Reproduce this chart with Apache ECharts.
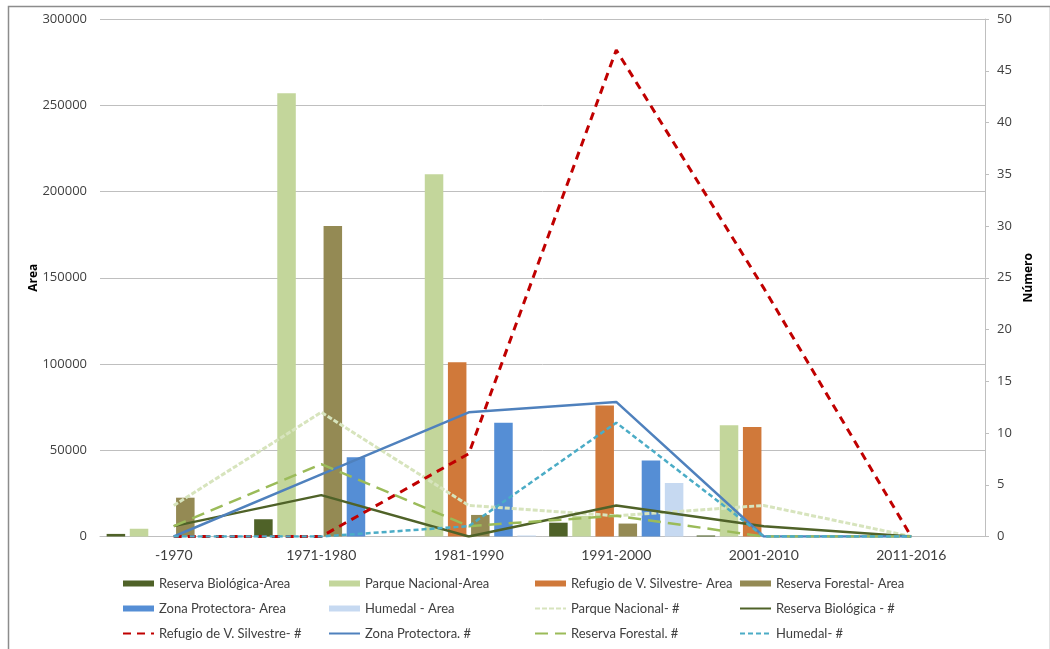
<!DOCTYPE html>
<html>
<head>
<meta charset="utf-8">
<title>Áreas protegidas por década</title>
<script src="https://cdn.jsdelivr.net/npm/echarts@6/dist/echarts.min.js"></script>
<style>
  html, body { margin: 0; padding: 0; background: #fff; }
  #chart { width: 1050px; height: 649px; }
</style>
</head>
<body>
<div id="chart"></div>
<script>
// Decades
const categories = ['-1970', '1971-1980', '1981-1990', '1991-2000', '2001-2010', '2011-2016'];

// Area declared per decade (left axis)
const areaBiologica = [1500, 10000, 0, 8000, 600, 0];
const areaParque    = [4500, 257000, 210000, 12000, 64500, 0];
const areaRefugio   = [0, 0, 101000, 76000, 63500, 0];
const areaForestal  = [22500, 180000, 12500, 7500, 0, 0];
const areaZona      = [0, 46000, 66000, 44000, 0, 0];
const areaHumedal   = [0, 0, 600, 31000, 0, 0];

// Number of units declared per decade (right axis)
const numParque    = [3, 12, 3, 2, 3, 0];
const numBiologica = [1, 4, 0, 3, 1, 0];
const numRefugio   = [0, 0, 8, 47, 24, 0];
const numZona      = [0, 6, 12, 13, 0, 0];
const numForestal  = [1, 7, 1, 2, 0, 0];
const numHumedal   = [0, 0, 1, 11, 0, 0];

// Axis ticks
const areaTicks = { min: 0, max: 300000, interval: 50000 };
const numTicks  = { min: 0, max: 50, interval: 5 };

const labelFont = "Lato, 'Open Sans', sans-serif";
const numFont = "'Open Sans', 'DejaVu Sans', sans-serif";
const textColor = '#404040';

function bar(name, data, color) {
  return {
    name, type: 'bar', data, yAxisIndex: 0,
    barGap: '25%', barCategoryGap: '9%',
    itemStyle: { color }
  };
}
function line(name, data, color, type, width) {
  return {
    name, type: 'line', data, yAxisIndex: 1,
    symbol: 'none', z: 5,
    lineStyle: { color, type, width, cap: 'butt' },
    itemStyle: { color }
  };
}

const series = [
  bar('Reserva Biológica-Area', areaBiologica, '#4f6228'),
  bar('Parque Nacional-Area', areaParque, '#c3d69b'),
  bar('Refugio de V. Silvestre- Area', areaRefugio, '#d0793a'),
  bar('Reserva Forestal- Area', areaForestal, '#948a54'),
  bar('Zona Protectora- Area', areaZona, '#558ed5'),
  bar('Humedal - Area', areaHumedal, '#c6d9f1'),
  line('Parque Nacional- #', numParque, '#d7e4bd', [5, 2], 3),
  line('Reserva Biológica - #', numBiologica, '#4f6228', 'solid', 2.5),
  line('Refugio de V. Silvestre- #', numRefugio, '#c00000', [8, 6], 3),
  line('Zona Protectora. #', numZona, '#4f81bd', 'solid', 2.5),
  line('Reserva Forestal. #', numForestal, '#9bbb59', [13, 7], 2.5),
  line('Humedal- #', numHumedal, '#4bacc6', [5, 3], 2.5)
];

const legendColumns = [
  { left: 122, items: ['Reserva Biológica-Area', 'Zona Protectora- Area', 'Refugio de V. Silvestre- #'] },
  { left: 328, items: ['Parque Nacional-Area', 'Humedal - Area', 'Zona Protectora. #'] },
  { left: 534, items: ['Refugio de V. Silvestre- Area', 'Parque Nacional- #', 'Reserva Forestal. #'] },
  { left: 739, items: ['Reserva Forestal- Area', 'Reserva Biológica - #', 'Humedal- #'] }
];
const barNames = series.filter(s => s.type === 'bar').map(s => s.name);

// Bars get a flat rectangle key; lines show only their stroke
const legends = legendColumns.map(col => ({
  orient: 'vertical',
  left: col.left,
  top: 577,
  itemWidth: 31,
  itemHeight: 6,
  itemGap: 12,
  padding: 0,
  selectedMode: false,
  textStyle: { fontFamily: labelFont, fontSize: 13, color: textColor },
  data: col.items.map(n => barNames.includes(n)
    ? { name: n, icon: 'rect' }
    : { name: n, itemStyle: { opacity: 0 } })
}));

const chart = echarts.init(document.getElementById('chart'), null, { renderer: 'canvas' });
chart.setOption({
  animation: false,
  backgroundColor: '#ffffff',
  graphic: [{
    type: 'rect', left: 6, top: 4, z: 100, silent: true,
    shape: { width: 1042, height: 660 },
    style: { fill: 'none', stroke: '#8c8c8c', lineWidth: 1.5 }
  }],
  grid: { left: 100, right: 65, top: 19, bottom: 112.5 },
  legend: legends,
  xAxis: {
    type: 'category',
    data: categories,
    axisLine: { lineStyle: { color: '#bfbfbf', width: 1 } },
    axisTick: { show: false },
    axisLabel: { fontFamily: labelFont, fontSize: 14, color: textColor, margin: 12 }
  },
  yAxis: [
    {
      type: 'value', ...areaTicks,
      name: 'Area', nameLocation: 'middle', nameGap: 60, nameRotate: 90,
      nameMoveOverlap: false,
      nameTextStyle: { fontFamily: numFont, fontSize: 12, fontWeight: 'bold', color: '#000' },
      axisLine: { show: false },
      axisTick: { show: false },
      splitLine: { lineStyle: { color: '#bfbfbf', width: 1 } },
      axisLabel: { fontFamily: numFont, fontSize: 13, color: textColor, margin: 13,
                   formatter: v => String(v) }
    },
    {
      type: 'value', ...numTicks, position: 'right',
      name: 'Número', nameLocation: 'middle', nameGap: 38, nameRotate: 90,
      nameTextStyle: { fontFamily: numFont, fontSize: 12, fontWeight: 'bold', color: '#000' },
      axisLine: { show: true, lineStyle: { color: '#bfbfbf', width: 1 } },
      axisTick: { show: true, length: 4, lineStyle: { color: '#bfbfbf' } },
      splitLine: { show: false },
      axisLabel: { fontFamily: numFont, fontSize: 13, color: textColor, margin: 12 }
    }
  ],
  series
});
</script>
</body>
</html>
